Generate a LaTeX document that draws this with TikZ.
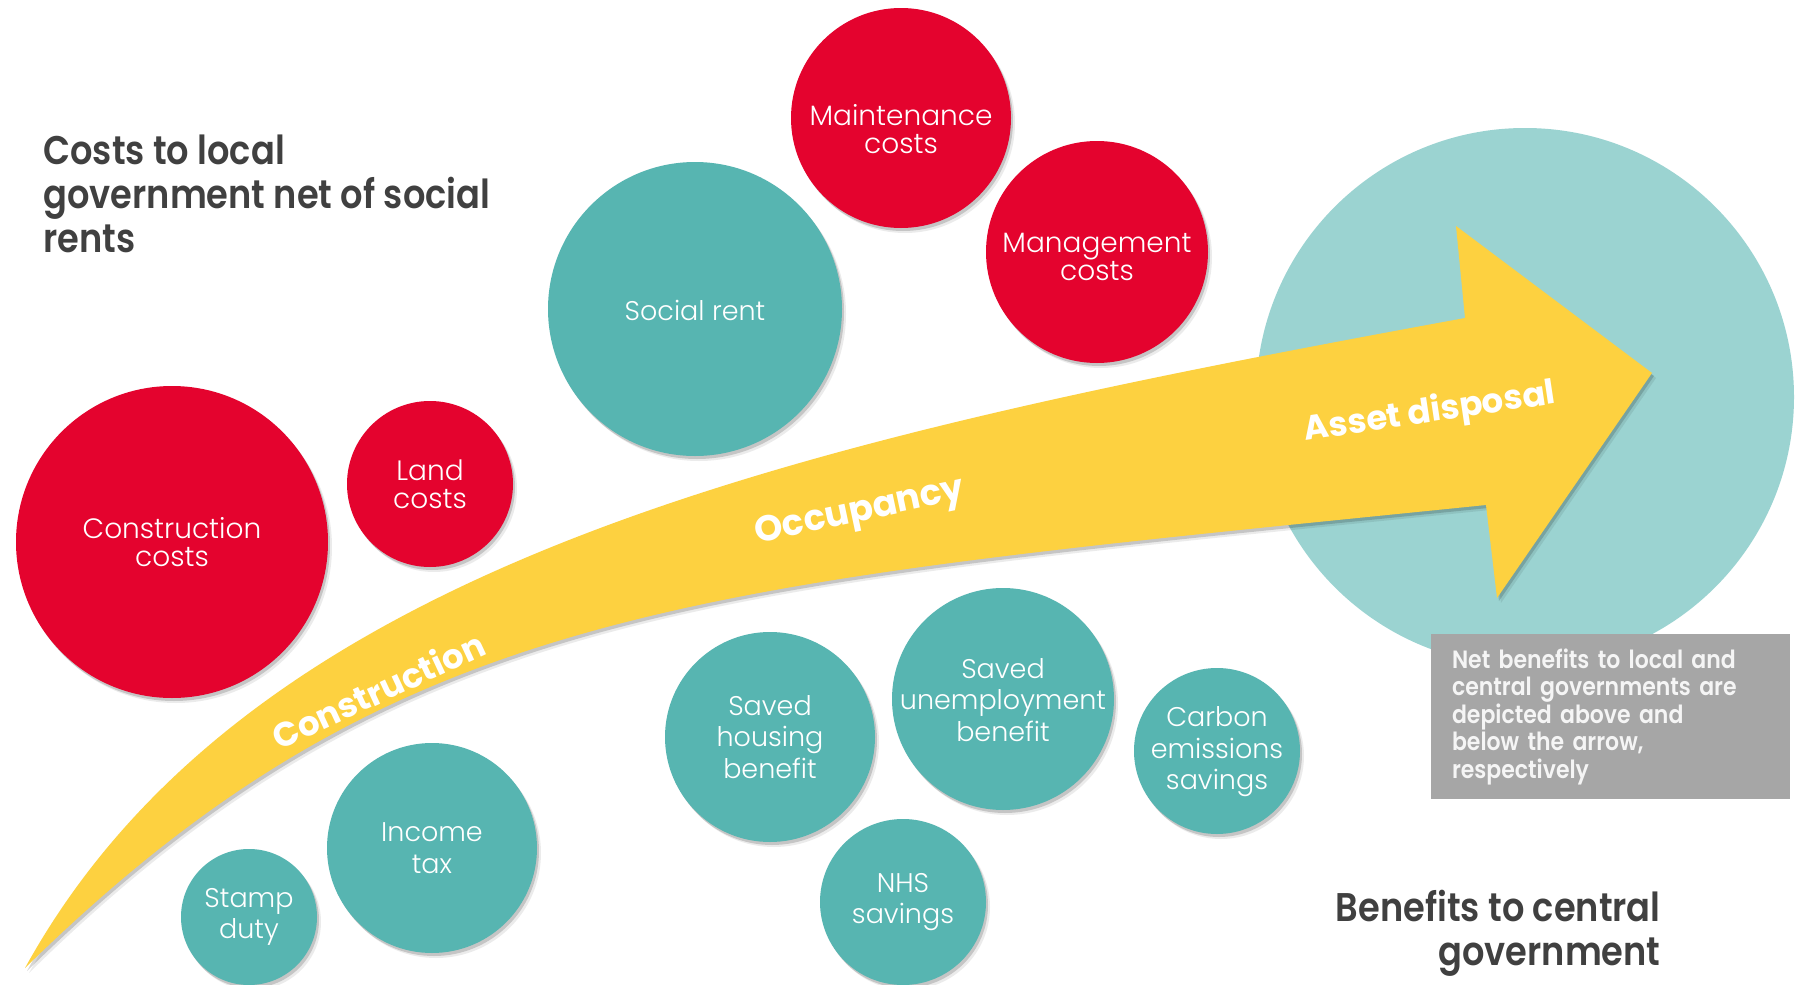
\documentclass[tikz,border=0pt]{standalone}
\usepackage{fontspec}
\usetikzlibrary{shadows}
\setmainfont{Poppins}
\newfontfamily\lightfont{Poppins Light}
\newfontfamily\condfont{Poppins SemiBold}[FakeStretch=0.88]
\definecolor{cred}{HTML}{E4032E}
\definecolor{cteal}{HTML}{57B5B1}
\definecolor{clteal}{HTML}{9BD3D1}
\definecolor{cyel}{HTML}{FDD140}
\definecolor{cgray}{HTML}{A6A6A6}
\definecolor{cdark}{HTML}{404040}
\tikzset{
  sh/.style={drop shadow={shadow xshift=1pt, shadow yshift=-1.5pt, opacity=0.16, fill=black},
             drop shadow={shadow xshift=2pt, shadow yshift=-2.5pt, opacity=0.08, fill=black}},
  bubble/.style={circle, inner sep=0pt, sh},
  cost/.style={bubble, fill=cred},
  gain/.style={bubble, fill=cteal},
  ctext/.style={text=white, align=center, inner sep=0pt, font=\lightfont\fontsize{14}{14}\selectfont},
  gtext/.style={text=white, align=center, inner sep=0pt, font=\lightfont\fontsize{13.5}{15.75}\selectfont},
  alabel/.style={text=white, inner sep=0pt, font=\bfseries\fontsize{17}{17}\selectfont},
  title/.style={text=cdark, inner sep=0pt, font=\condfont\fontsize{20}{22}\selectfont},
}
\begin{document}
\begin{tikzpicture}[x=0.5pt,y=-0.5pt]
\useasboundingbox (0,0) rectangle (1801,985);
\fill[white] (0,0) rectangle (1801,985);

% big asset-disposal circle
\node[circle, fill=clteal, inner sep=0pt, minimum size=269pt] (big) at (1525,397) {};

% arrow
\fill[cyel, sh] (25,968) .. controls (250,560) and (800,440) .. (1465,318)
  -- (1456,226) -- (1652,373) -- (1497,598) -- (1486,505)
  .. controls (700,585) and (400,600) .. (25,968) -- cycle;

\node[alabel, rotate=25] (lcon) at (378,690) {Construction};
\node[alabel, rotate=12, font=\bfseries\fontsize{18}{18}\selectfont] (locc) at (860,513) {Occupancy};
\node[alabel, rotate=8.5] (lasset) at (1430,413) {Asset disposal};

% cost bubbles
\node[cost, minimum size=110pt] (maint) at (901,118) {};
\node[ctext] (tmaint) at (901,129) {Maintenance\\costs};
\node[cost, minimum size=111pt] (manag) at (1097,252) {};
\node[ctext] (tmanag) at (1097,257) {Management\\costs};
\node[cost, minimum size=83pt] (land) at (430,484) {};
\node[ctext] (tland) at (430,484) {Land\\costs};
\node[cost, minimum size=156pt] (constr) at (172,542) {};
\node[ctext] (tconstr) at (172,542) {Construction\\costs};

% benefit bubbles
\node[gain, minimum size=147pt] (rent) at (695,309) {};
\node[gtext] (trent) at (695,310) {Social rent};
\node[gain, minimum size=105pt] (housing) at (770,737) {};
\node[gtext] (thousing) at (770,737) {Saved\\housing\\benefit};
\node[gain, minimum size=111pt] (unemp) at (1003,699) {};
\node[gtext] (tunemp) at (1003,700) {Saved\\unemployment\\benefit};
\node[gain, minimum size=83pt] (carbon) at (1217,751) {};
\node[gtext] (tcarbon) at (1217,752) {Carbon\\emissions\\savings};
\node[gain, minimum size=83pt] (nhs) at (903,902) {};
\node[gtext] (tnhs) at (903,902) {NHS\\savings};
\node[gain, minimum size=105pt] (income) at (432,848) {};
\node[gtext] (tincome) at (432,848) {Income\\tax};
\node[gain, minimum size=68pt] (stamp) at (249,917) {};
\node[gtext] (tstamp) at (249,917) {Stamp\\duty};

% note box
\node[fill=cgray, minimum width=179.5pt, minimum height=82.5pt, inner xsep=10.5pt,
      text width=158.5pt, align=left, text=white!96!black,
      font=\condfont\fontsize{12.5}{13.75}\selectfont] (note) at (1610.5,716.5)
  {Net benefits to local and\\central governments are\\depicted above and\\below the arrow,\\respectively};

% titles
\node[title, align=left, anchor=north west] (tcost) at (43,134)
  {Costs to local\\government net of social\\rents};
\node[title, align=right, anchor=north east] (tben) at (1661,890)
  {Benefits to central\\government};
\end{tikzpicture}
\end{document}
